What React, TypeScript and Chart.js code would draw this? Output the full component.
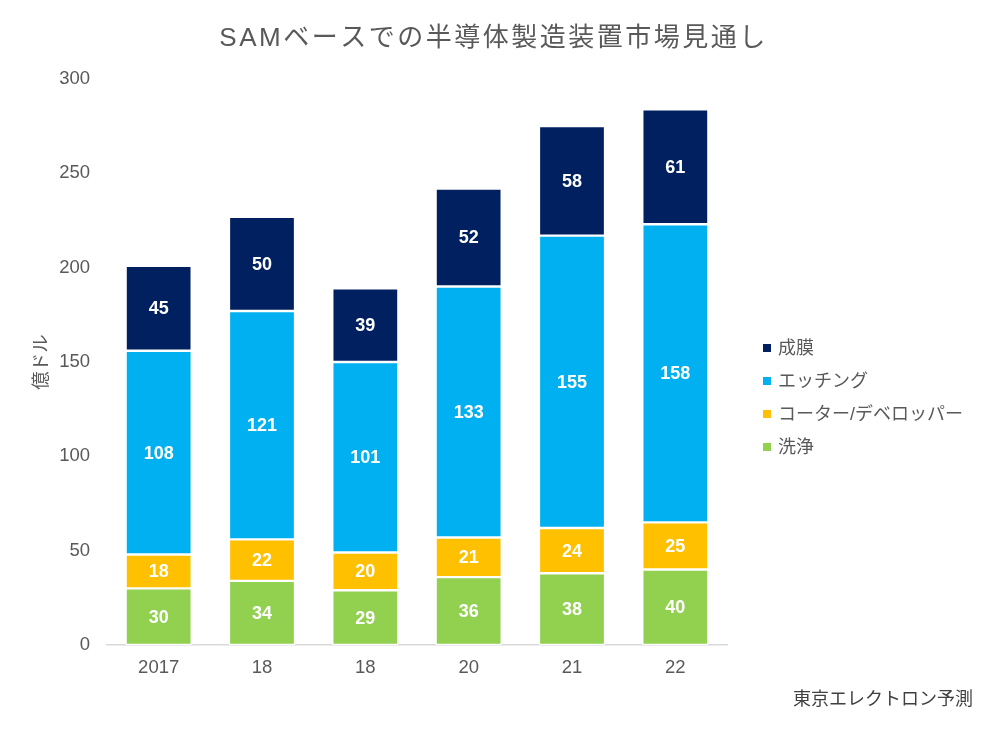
import React, { useEffect, useRef } from "react";
import { Chart, registerables } from "chart.js";
Chart.register(...registerables);

const TITLE = "SAMベースでの半導体製造装置市場見通し";
const Y_TITLE = "億ドル";
const SOURCE = "東京エレクトロン予測";
const categories = ["2017", "18", "18", "20", "21", "22"];
const seriesNames = ["洗浄", "コーター/デベロッパー", "エッチング", "成膜"];
const cleaning = [30, 34, 29, 36, 38, 40];
const coater = [18, 22, 20, 21, 24, 25];
const etching = [108, 121, 101, 133, 155, 158];
const deposition = [45, 50, 39, 52, 58, 61];
const seriesColors = ["#92D050", "#FFC000", "#00B0F0", "#002060"];
const yTicks = [0, 50, 100, 150, 200, 250, 300];

const FONT = "'Liberation Sans', Arial, 'Noto Sans CJK JP', sans-serif";
const TEXT = "#595959";

const extrasPlugin = {
  id: "extras",
  afterDatasetsDraw(chart: any) {
    const ctx = chart.ctx;
    ctx.save();
    ctx.fillStyle = "#ffffff";
    ctx.font = `bold 18px ${FONT}`;
    ctx.textAlign = "center";
    ctx.textBaseline = "middle";
    chart.data.datasets.forEach((ds: any, di: number) => {
      const meta = chart.getDatasetMeta(di);
      meta.data.forEach((el: any, i: number) => {
        const cy = (el.y + el.base) / 2;
        ctx.fillText(String(ds.data[i]), el.x, cy + 1);
      });
    });
    ctx.restore();
  },
  afterDraw(chart: any) {
    const ctx = chart.ctx;
    const area = chart.chartArea;
    ctx.save();
    // title
    ctx.fillStyle = TEXT;
    ctx.font = `26px ${FONT}`;
    (ctx as any).letterSpacing = "2.5px";
    ctx.textAlign = "center";
    ctx.textBaseline = "middle";
    ctx.fillText(TITLE, chart.width / 2 + 1, 39);
    (ctx as any).letterSpacing = "0px";
    // legend
    const n = chart.data.datasets.length;
    ctx.font = `18px ${FONT}`;
    ctx.textAlign = "left";
    for (let k = 0; k < n; k++) {
      const di = n - 1 - k;
      const ds = chart.data.datasets[di];
      const y = area.top + 269 + k * 33;
      const x = area.right + 36;
      ctx.fillStyle = ds.backgroundColor;
      ctx.fillRect(x, y - 4, 8, 8);
      ctx.fillStyle = TEXT;
      ctx.fillText(ds.label, x + 15, y + 1);
    }
    // source
    ctx.textAlign = "right";
    ctx.font = `18px ${FONT}`;
    ctx.fillStyle = "#404040";
    ctx.fillText(SOURCE, chart.width - 12, 700);
    ctx.restore();
  },
};

export default function App() {
  const ref = useRef<HTMLCanvasElement>(null);
  useEffect(() => {
    document.body.style.margin = "0";
    const values = [cleaning, coater, etching, deposition];
    const chart = new Chart(ref.current!, {
      type: "bar",
      data: {
        labels: categories,
        datasets: values.map((v, i) => ({
          label: seriesNames[i],
          data: v,
          backgroundColor: seriesColors[i],
          borderColor: "#ffffff",
          borderWidth: 1.2,
          borderSkipped: false,
          barPercentage: 0.64,
          categoryPercentage: 1,
        })),
      },
      options: {
        animation: false,
        responsive: true,
        maintainAspectRatio: false,
        layout: { padding: { left: 8, right: 258, top: 79, bottom: 0 } },
        plugins: {
          legend: { display: false },
          tooltip: { enabled: false },
          title: { display: false },
        },
        scales: {
          x: {
            stacked: true,
            grid: { display: false, drawTicks: false },
            border: { display: true, color: "#D9D9D9", width: 1.5 },
            ticks: { color: TEXT, font: { family: FONT, size: 18.5 }, padding: 12 },
            afterFit: (s: any) => {
              s.height = 94;
            },
          },
          y: {
            stacked: true,
            min: 0,
            max: 300,
            grid: { display: false, drawTicks: false },
            border: { display: false },
            ticks: {
              stepSize: 50,
              color: TEXT,
              font: { family: FONT, size: 18.5 },
              padding: 17,
              callback: (v: any) => (yTicks.includes(Number(v)) ? String(v) : ""),
            },
            title: {
              display: true,
              text: Y_TITLE,
              color: TEXT,
              font: { family: FONT, size: 18.5 },
              padding: { top: 23, bottom: 0 },
            },
            afterFit: (s: any) => {
              s.width = 99;
            },
          },
        },
      },
      plugins: [extrasPlugin],
    });
    return () => chart.destroy();
  }, []);
  return (
    <div style={{ width: 985, height: 739, position: "relative", background: "#fff" }}>
      <canvas ref={ref} />
    </div>
  );
}
